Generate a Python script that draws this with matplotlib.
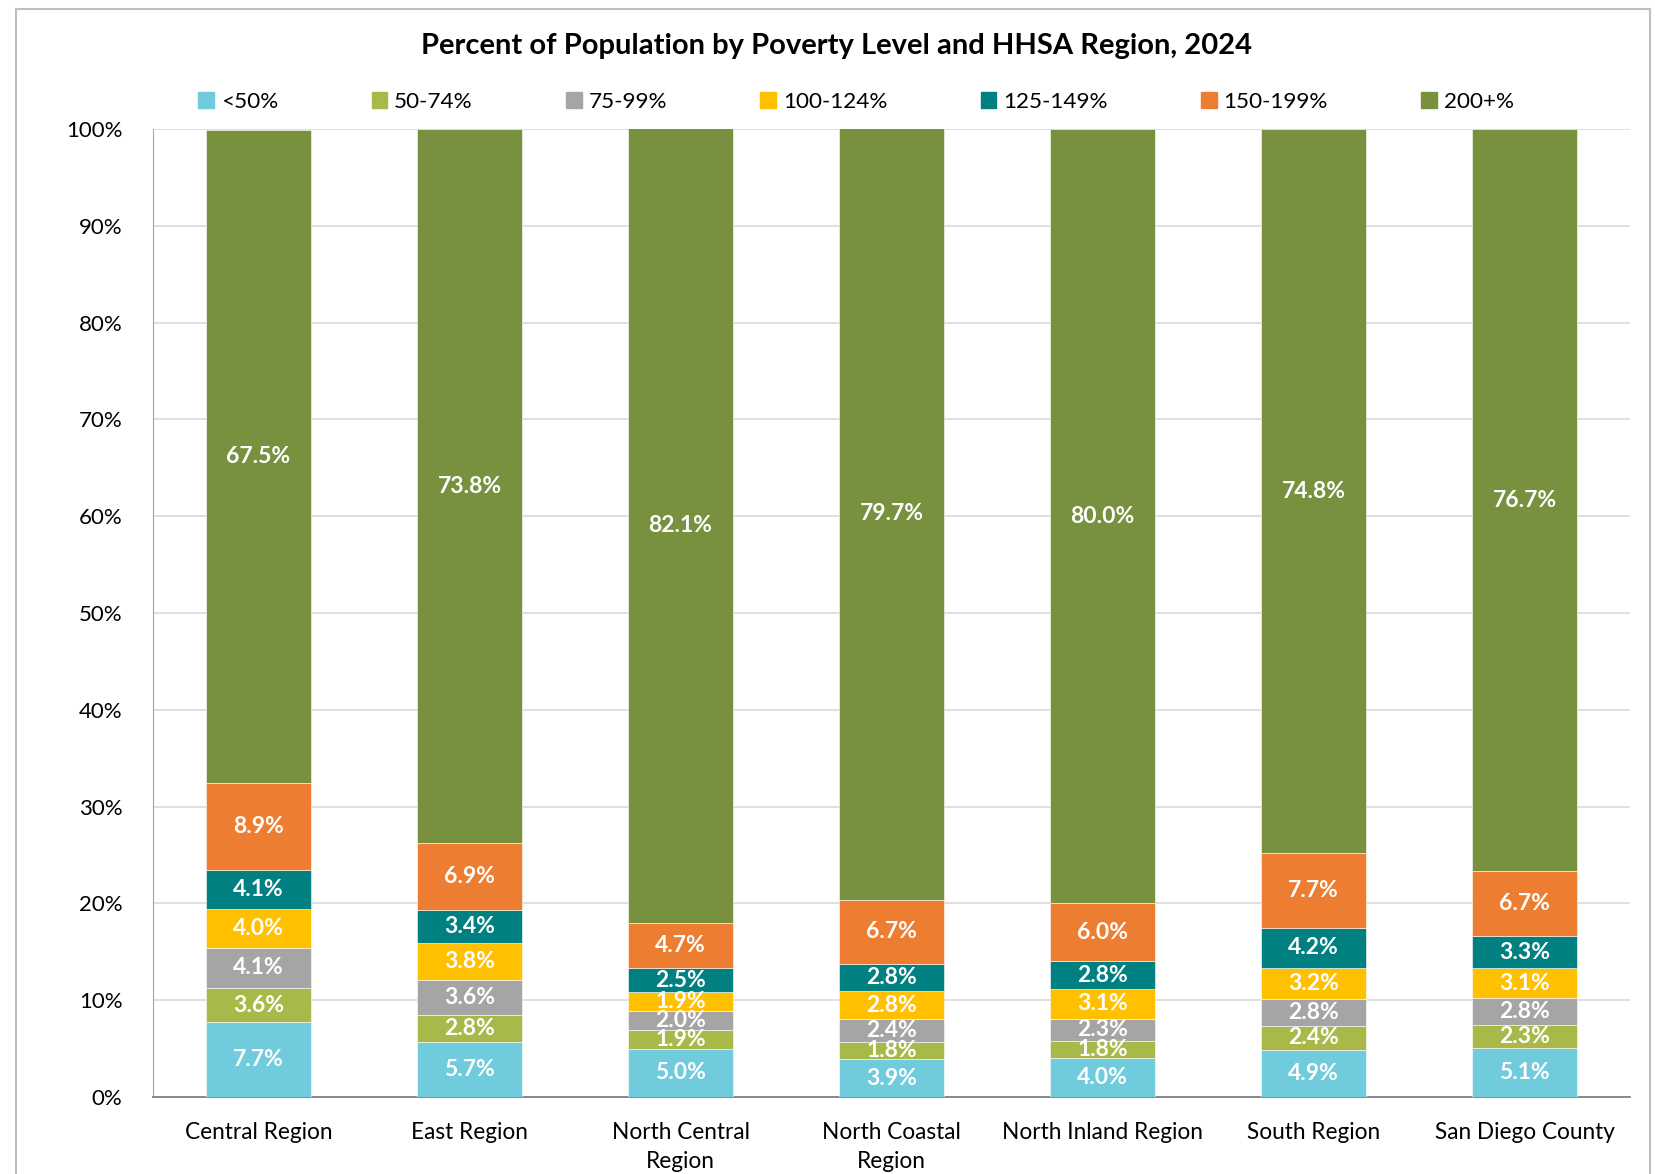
import matplotlib
matplotlib.use("Agg")
import matplotlib.pyplot as plt
from matplotlib.patches import Rectangle, Patch
from matplotlib.ticker import PercentFormatter
import numpy as np

plt.rcParams["font.family"] = ["Lato", "DejaVu Sans"]

regions = ["Central Region", "East Region", "North Central\nRegion", "North Coastal\nRegion",
           "North Inland Region", "South Region", "San Diego County"]
levels = ["<50%", "50-74%", "75-99%", "100-124%", "125-149%", "150-199%", "200+%"]
colors = ["#70CBDC", "#A8B94A", "#A5A5A5", "#FFC000", "#008080", "#ED7D31", "#77913F"]

lt50 = [7.7, 5.7, 5.0, 3.9, 4.0, 4.9, 5.1]
p50_74 = [3.6, 2.8, 1.9, 1.8, 1.8, 2.4, 2.3]
p75_99 = [4.1, 3.6, 2.0, 2.4, 2.3, 2.8, 2.8]
p100_124 = [4.0, 3.8, 1.9, 2.8, 3.1, 3.2, 3.1]
p125_149 = [4.1, 3.4, 2.5, 2.8, 2.8, 4.2, 3.3]
p150_199 = [8.9, 6.9, 4.7, 6.7, 6.0, 7.7, 6.7]
p200 = [67.5, 73.8, 82.1, 79.7, 80.0, 74.8, 76.7]
series = [lt50, p50_74, p75_99, p100_124, p125_149, p150_199, p200]

fig = plt.figure(figsize=(16.56, 11.74), dpi=100)
ax = fig.add_axes([0.0924, 0.0656, 0.8919, 0.8244])

x = np.arange(len(regions))
bottom = np.zeros(len(regions))
for vals, lab, col in zip(series, levels, colors):
    v = np.array(vals)
    ax.bar(x, v, 0.5, bottom=bottom, color=col, edgecolor="white", linewidth=0.4, label=lab, zorder=3)
    for xi, b, h in zip(x, bottom, v):
        ax.text(xi, b + h / 2, f"{h:.1f}%", ha="center", va="center", color="white",
                fontsize=16.5, fontweight="bold", zorder=4)
    bottom += v

ax.set_xlim(-0.5, len(regions) - 0.5)
ax.set_ylim(0, 100)
ax.set_yticks(np.arange(0, 101, 10))
ax.yaxis.set_major_formatter(PercentFormatter(decimals=0))
ax.set_xticks(x)
ax.set_xticklabels(regions, fontsize=16.3, linespacing=1.45)
ax.tick_params(axis="y", labelsize=16, length=0, pad=22)
ax.tick_params(axis="x", length=0, pad=18)
ax.grid(axis="y", color="#D9D9D9", linewidth=1.2, zorder=0)
for s in ["top", "right"]:
    ax.spines[s].set_visible(False)
ax.spines["left"].set_color("#A6A6A6")
ax.spines["bottom"].set_color("#808080")
ax.spines["bottom"].set_linewidth(1.3)

fig.text(0.505, 0.961, "Percent of Population by Poverty Level and HHSA Region, 2024",
         ha="center", va="center", fontsize=21, fontweight="bold")

handles = [Patch(color=c, label=l) for c, l in zip(colors, levels)]
fig.legend(handles=handles, loc="center", bbox_to_anchor=(0.517, 0.913), ncol=7, frameon=False,
           fontsize=16.2, handlelength=0.7, handleheight=0.7, handletextpad=0.3, columnspacing=4.15)

fig.patches.append(Rectangle((0.0097, -0.01), 0.9867, 1.0023, transform=fig.transFigure,
                             fill=False, edgecolor="#BFBFBF", linewidth=1.5))

fig.savefig("out.png", dpi=100)
